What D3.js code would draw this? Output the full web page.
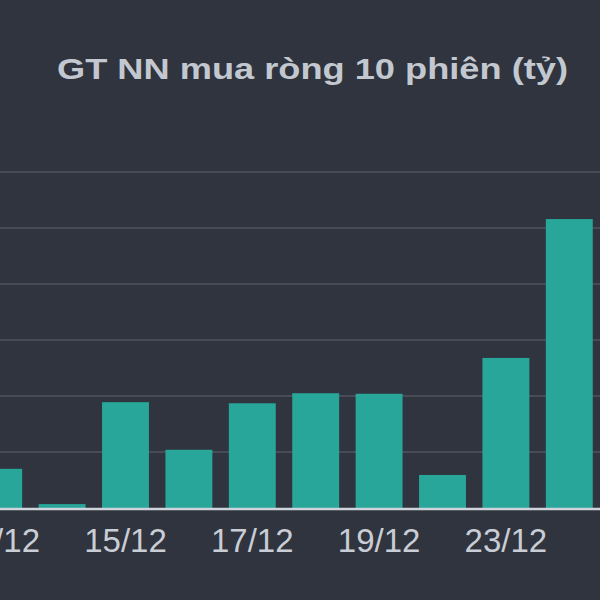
<!DOCTYPE html>
<html lang="vi">
<head>
    <meta charset="UTF-8">
    <title>GT NN mua ròng 10 phiên</title>
    <style>
        body {
            margin: 0;
            padding: 0;
            background-color: #2f343e;
        }
        svg {
            display: block;
        }
        .grid line {
            stroke: #474c57;
            stroke-width: 2px;
        }
        .tick-label {
            font-family: 'Liberation Sans', Arial, sans-serif;
            font-size: 33px;
            fill: #c9cdd5;
            text-anchor: middle;
        }
        .title {
            font-family: 'Liberation Sans', Arial, sans-serif;
            font-size: 30px;
            font-weight: bold;
            fill: #c3c8d0;
        }
    </style>
</head>
<body>
    <div id="chart"></div>

    <script src="https://d3js.org/d3.v7.min.js"></script>
    <script>
        // data (tỷ đồng)
        const days = ['13/12', '14/12', '15/12', '16/12', '17/12', '18/12', '19/12', '22/12', '23/12', '24/12'];
        const netBuy = [70, 7, 189, 104, 187, 205, 204, 59, 268, 516];
        const labelledDays = ['13/12', '15/12', '17/12', '19/12', '23/12'];
        const gridValues = [100, 200, 300, 400, 500, 600];

        const width = 600;
        const height = 600;

        const svg = d3.select('#chart')
            .append('svg')
            .attr('width', width)
            .attr('height', height);

        svg.append('rect')
            .attr('width', width)
            .attr('height', height)
            .attr('fill', '#2f343e');

        const x = d3.scaleBand()
            .domain(days)
            .range([-33, 601])
            .paddingInner(0.26)
            .paddingOuter(0.13);

        const y = d3.scaleLinear()
            .domain([0, 600])
            .range([508, 172]);

        // horizontal grid lines
        svg.append('g')
            .attr('class', 'grid')
            .selectAll('line')
            .data(gridValues)
            .enter()
            .append('line')
            .attr('x1', 0)
            .attr('x2', width)
            .attr('y1', d => y(d))
            .attr('y2', d => y(d));

        // bars
        svg.append('g')
            .selectAll('rect')
            .data(days)
            .enter()
            .append('rect')
            .attr('x', d => x(d))
            .attr('width', x.bandwidth())
            .attr('y', (d, i) => y(netBuy[i]))
            .attr('height', (d, i) => y(0) - y(netBuy[i]))
            .attr('fill', '#27a699');

        // baseline
        svg.append('line')
            .attr('x1', 0)
            .attr('x2', width)
            .attr('y1', y(0) + 1)
            .attr('y2', y(0) + 1)
            .attr('stroke', '#cfd3db')
            .attr('stroke-width', 2.5);

        // x labels (every other day)
        svg.append('g')
            .selectAll('text')
            .data(labelledDays)
            .enter()
            .append('text')
            .attr('class', 'tick-label')
            .attr('x', d => x(d) + x.bandwidth() / 2)
            .attr('y', 552)
            .text(d => d);

        // title
        svg.append('text')
            .attr('class', 'title')
            .attr('x', 57)
            .attr('y', 79)
            .attr('textLength', 511)
            .attr('lengthAdjust', 'spacingAndGlyphs')
            .text('GT NN mua ròng 10 phiên (tỷ)');
    </script>
</body>
</html>
